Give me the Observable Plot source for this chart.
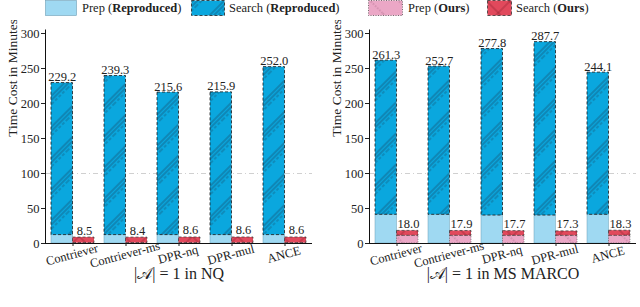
<!DOCTYPE html>
<html>
<head>
<meta charset="utf-8">
<script src="https://cdn.jsdelivr.net/npm/d3@7"></script>
<script src="https://cdn.jsdelivr.net/npm/@observablehq/plot@0.6"></script>
<style>
  html, body { margin: 0; padding: 0; background: #fff; }
  body { width: 640px; height: 307px; overflow: hidden; font-family: 'Liberation Serif', serif; }
  #legend { position: relative; width: 640px; height: 20px; font-size: 12.5px; color: #222; }
  #legend .sw { position: absolute; top: 0; height: 16px; }
  #legend .lb { position: absolute; top: 1px; line-height: 14px; white-space: nowrap; }
  #charts { display: flex; width: 640px; }
</style>
</head>
<body>
<svg width="0" height="0" style="position:absolute">
  <defs>
    <pattern id="hatchRep" width="22" height="22" patternUnits="userSpaceOnUse" patternTransform="rotate(45)">
      <rect width="22" height="22" fill="#0aa7de"></rect>
      <line x1="2" y1="0" x2="2" y2="22" stroke="#1b3c55" stroke-width="0.6"></line>
      <line x1="5" y1="0" x2="5" y2="22" stroke="#1b3c55" stroke-width="0.6"></line>
      <line x1="8" y1="0" x2="8" y2="22" stroke="#1b3c55" stroke-width="0.5" stroke-dasharray="3,2"></line>
    </pattern>
    <pattern id="hatchSearchOurs" width="16" height="16" patternUnits="userSpaceOnUse" patternTransform="rotate(45)">
      <rect width="16" height="16" fill="#e1495c"></rect>
      <line x1="1" y1="0" x2="1" y2="16" stroke="#8a1f2c" stroke-width="0.6"></line>
      <line x1="0" y1="1" x2="16" y2="1" stroke="#8a1f2c" stroke-width="0.6"></line>
    </pattern>
    <pattern id="hatchPrepOurs" width="20" height="20" patternUnits="userSpaceOnUse" patternTransform="rotate(-45)">
      <rect width="20" height="20" fill="#eba7c6"></rect>
      <line x1="1" y1="0" x2="1" y2="20" stroke="#9a5a78" stroke-width="0.6" stroke-dasharray="1.5,1.5"></line>
    </pattern>
  </defs>
</svg>
<div id="legend">
  <svg class="sw" style="left:45px;width:32px"><rect x="0.5" y="0.5" width="31" height="15" fill="#9fd9f2" stroke="#6d9fb6" stroke-width="0.6"></rect></svg>
  <div class="lb" style="left:82px">Prep (<b>Reproduced</b>)</div>
  <svg class="sw" style="left:191px;width:34px"><rect x="0.5" y="0.5" width="33" height="15" fill="url(#hatchRep)" stroke="#222" stroke-width="0.8" stroke-dasharray="3,2"></rect></svg>
  <div class="lb" style="left:229px">Search (<b>Reproduced</b>)</div>
  <svg class="sw" style="left:368px;width:35px"><rect x="0.5" y="0.5" width="34" height="15" fill="url(#hatchPrepOurs)" stroke="#555" stroke-width="0.8" stroke-dasharray="1,1.5"></rect></svg>
  <div class="lb" style="left:408px">Prep (<b>Ours</b>)</div>
  <svg class="sw" style="left:487px;width:25px"><rect x="0.5" y="0.5" width="24" height="15" fill="url(#hatchSearchOurs)" stroke="#333" stroke-width="0.8" stroke-dasharray="3,2"></rect></svg>
  <div class="lb" style="left:516px">Search (<b>Ours</b>)</div>
</div>
<div id="charts"></div>
<script>
const models = ["Contriever", "Contriever-ms", "DPR-nq", "DPR-mul", "ANCE"];
const yTicks = [0, 50, 100, 150, 200, 250, 300];

// |A| = 1 in NQ
const nqPrepRep = [12, 12, 12, 12, 12];
const nqTotalRep = [229.2, 239.3, 215.6, 215.9, 252.0];
const nqPrepOurs = [0.6, 0.6, 0.6, 0.6, 0.6];
const nqTotalOurs = [8.5, 8.4, 8.6, 8.6, 8.6];

// |A| = 1 in MS MARCO
const msPrepRep = [41, 41, 40, 40, 41];
const msTotalRep = [261.3, 252.7, 277.8, 287.7, 244.1];
const msPrepOurs = [11, 11, 11, 11, 11];
const msTotalOurs = [18.0, 17.9, 17.7, 17.3, 18.3];

const titles = ["|𝒜| = 1 in NQ", "|𝒜| = 1 in MS MARCO"];

function panel(title, prepRep, totalRep, prepOurs, totalOurs, mLeft, mRight) {
  const rows = models.map((m, i) => ({
    model: m, prepRep: prepRep[i], totalRep: totalRep[i], prepOurs: prepOurs[i], totalOurs: totalOurs[i]
  }));
  const half = 21.5;
  return Plot.plot({
    width: 320,
    height: 287,
    marginTop: 9.5,
    marginBottom: 64,
    marginLeft: mLeft,
    marginRight: mRight,
    x: { domain: models, paddingInner: 0.19, paddingOuter: 0.11, axis: null },
    y: { domain: [0, 305], axis: null },
    style: { fontFamily: "'Liberation Serif', serif", fontSize: "12px", background: "transparent", color: "#222" },
    marks: [
      Plot.ruleY([100], { stroke: "#c4c4c4", strokeDasharray: "5,3,1,3", strokeWidth: 0.8 }),
      Plot.barY(rows, { x: "model", y1: 0, y2: "prepRep", fill: "#9fd9f2", stroke: "#6d9fb6", strokeWidth: 0.5, insetRight: half }),
      Plot.barY(rows, { x: "model", y1: "prepRep", y2: "totalRep", fill: "url(#hatchRep)", stroke: "#1a1a1a", strokeWidth: 0.8, strokeDasharray: "3,2", insetRight: half }),
      Plot.barY(rows, { x: "model", y1: 0, y2: "prepOurs", fill: "url(#hatchPrepOurs)", stroke: "#555", strokeWidth: 0.7, strokeDasharray: "1,1.5", insetLeft: half }),
      Plot.barY(rows, { x: "model", y1: "prepOurs", y2: "totalOurs", fill: "url(#hatchSearchOurs)", stroke: "#333", strokeWidth: 0.7, strokeDasharray: "3,2", insetLeft: half }),
      Plot.text(rows, { x: "model", y: "totalRep", text: d => d.totalRep.toFixed(1), dx: -10.75, dy: -2, lineAnchor: "bottom", fontSize: 12.5 }),
      Plot.text(rows, { x: "model", y: "totalOurs", text: d => d.totalOurs.toFixed(1), dx: 11.5, dy: -3, lineAnchor: "bottom", fontSize: 12.5 }),
      Plot.ruleY([0], { stroke: "#111", strokeWidth: 1 }),
      Plot.frame({ anchor: "left", stroke: "#111", strokeWidth: 1 }),
      Plot.axisY({ ticks: yTicks, tickSize: 4, tickPadding: 2, label: null, fontSize: 12.5 }),
      Plot.axisX({ tickSize: 3, tickFormat: () => "", label: null }),
      Plot.text(models, { x: d => d, frameAnchor: "bottom", dy: 15, rotate: -15, textAnchor: "middle", fontSize: 12.5 }),
      Plot.text(["Time Cost in Minutes"], { frameAnchor: "left", dx: -33, rotate: -90, fontSize: 13.5 }),
      Plot.text([title], { frameAnchor: "bottom", dy: 35, fontSize: 16 })
    ]
  });
}

const charts = document.getElementById("charts");
charts.append(panel(titles[0], nqPrepRep, nqTotalRep, nqPrepOurs, nqTotalOurs, 45, 8));
charts.append(panel(titles[1], msPrepRep, msTotalRep, msPrepOurs, msTotalOurs, 49, 4));
</script>
</body>
</html>
